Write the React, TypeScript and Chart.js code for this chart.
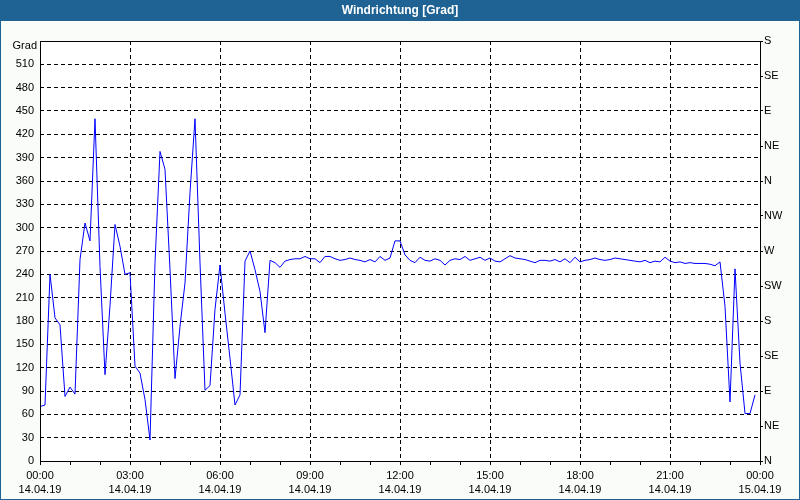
import React, { useEffect, useRef } from "react";
import { Chart, registerables } from "chart.js";

Chart.register(...registerables);

const TITLE = "Windrichtung [Grad]";
const LEFT_UNIT = "Grad";
const STEP_MINUTES = 10;

const DIRECTION_VALUES: number[] = [
  70, 72, 240, 184, 175, 83, 95, 86, 259, 306,
  283, 440, 250, 111, 200, 304, 276, 240, 242, 122,
  113, 79, 27, 255, 398, 375, 246, 106, 173, 229,
  345, 440, 255, 91, 97, 195, 252, 190, 132, 72,
  85, 257, 270, 246, 218, 165, 258, 255, 249, 257,
  259, 260, 260, 263, 260, 260, 255, 263, 263, 260,
  258, 259, 261, 259, 258, 256, 259, 256, 263, 258,
  261, 283, 283, 265, 258, 255, 262, 258, 257, 260,
  258, 252, 258, 260, 259, 263, 258, 260, 262, 258,
  261, 257, 256, 260, 264, 261, 260, 259, 257, 255,
  258, 258, 257, 259, 256, 260, 255, 262, 256, 258,
  259, 261, 259, 258, 259, 261, 260, 259, 258, 257,
  256, 258, 255, 257, 256, 262, 257, 255, 256, 254,
  255, 254, 254, 254, 253, 251, 256, 199, 76, 247,
  126, 61, 61, 85,
];

const LEFT_MIN = 0;
const LEFT_MAX = 540;
const LEFT_STEP = 30;
const RIGHT_STEP = 45;
const COMPASS_LABELS = ["N", "NE", "E", "SE", "S", "SW", "W", "NW", "N", "NE", "E", "SE", "S"];

const X_MIN = 0;
const X_MAX = 1440;
const X_MINOR_STEP = 60;
const X_LABEL_STEP = 180;
const TIME_LABELS = ["00:00", "03:00", "06:00", "09:00", "12:00", "15:00", "18:00", "21:00", "00:00"];
const DATE_LABELS = ["14.04.19", "14.04.19", "14.04.19", "14.04.19", "14.04.19", "14.04.19", "14.04.19", "14.04.19", "15.04.19"];

const FONT = "'Liberation Sans', Arial, sans-serif";

export default function App() {
  const canvasRef = useRef<HTMLCanvasElement | null>(null);

  useEffect(() => {
    document.body.style.margin = "0";
    const canvas = canvasRef.current;
    if (!canvas) return;

    const points = DIRECTION_VALUES.map((v, i) => ({ x: i * STEP_MINUTES, y: v }));

    const framePlugin = {
      id: "frame",
      beforeDraw(chart: any) {
        const { ctx, chartArea, width, height } = chart;
        ctx.save();
        ctx.fillStyle = "#f9fcf9";
        ctx.fillRect(0, 0, width, height);
        ctx.fillStyle = "#ffffff";
        ctx.fillRect(chartArea.left, chartArea.top, chartArea.right - chartArea.left, chartArea.bottom - chartArea.top);
        ctx.fillStyle = "#1e6394";
        ctx.fillRect(0, 0, width, 21);
        ctx.fillStyle = "#ffffff";
        ctx.font = "bold 12px " + FONT;
        ctx.textAlign = "center";
        ctx.textBaseline = "middle";
        ctx.fillText(TITLE, width / 2, 11);
        ctx.restore();
      },
      afterDraw(chart: any) {
        const { ctx, chartArea, width, height } = chart;
        ctx.save();
        ctx.strokeStyle = "#000000";
        ctx.lineWidth = 1;
        ctx.setLineDash([]);
        ctx.strokeRect(
          Math.round(chartArea.left) + 0.5,
          Math.round(chartArea.top) + 0.5,
          Math.round(chartArea.right - chartArea.left),
          Math.round(chartArea.bottom - chartArea.top)
        );
        ctx.fillStyle = "#000000";
        ctx.font = "11px " + FONT;
        ctx.textAlign = "right";
        ctx.textBaseline = "middle";
        ctx.fillText(LEFT_UNIT, 37, 46);
        ctx.strokeStyle = "#1e6394";
        ctx.strokeRect(0.5, 0.5, width - 1, height - 1);
        ctx.restore();
      },
    };

    const chart = new Chart(canvas, {
      type: "line",
      data: {
        datasets: [
          {
            data: points,
            borderColor: "#0000ff",
            borderWidth: 1,
            pointRadius: 0,
            tension: 0,
            fill: false,
            yAxisID: "y",
          },
        ],
      },
      options: {
        animation: false,
        responsive: false,
        maintainAspectRatio: false,
        devicePixelRatio: 1,
        layout: { padding: { top: 41, left: 0, right: 0, bottom: 0 } },
        plugins: {
          legend: { display: false },
          title: { display: false },
          tooltip: { enabled: false },
        },
        scales: {
          x: {
            type: "linear",
            min: X_MIN,
            max: X_MAX,
            afterFit(scale: any) {
              scale.height = 39;
            },
            ticks: {
              stepSize: X_MINOR_STEP,
              autoSkip: false,
              maxRotation: 0,
              minRotation: 0,
              padding: 3,
              color: "#000000",
              font: { family: FONT, size: 11, lineHeight: 1.36 },
              callback: (value: any) => {
                const v = Number(value);
                if (v % X_LABEL_STEP !== 0) return "";
                const i = v / X_LABEL_STEP;
                return [TIME_LABELS[i], DATE_LABELS[i]];
              },
            },
            grid: {
              color: (ctx: any) => (ctx.tick && ctx.tick.value % X_LABEL_STEP === 0 ? "#000000" : "rgba(0,0,0,0)"),
              lineWidth: 1,
              tickColor: "#000000",
              tickLength: 4,
              drawTicks: true,
            },
            border: { display: false, dash: [4, 3] },
          },
          y: {
            type: "linear",
            position: "left",
            min: LEFT_MIN,
            max: LEFT_MAX,
            afterFit(scale: any) {
              scale.width = 40;
            },
            ticks: {
              stepSize: LEFT_STEP,
              padding: 6,
              color: "#000000",
              font: { family: FONT, size: 11 },
              callback: (value: any) => (Number(value) === LEFT_MAX ? "" : String(value)),
            },
            grid: {
              color: "#000000",
              lineWidth: 1,
              drawTicks: false,
            },
            border: { display: false, dash: [4, 3] },
          },
          y2: {
            type: "linear",
            position: "right",
            min: LEFT_MIN,
            max: LEFT_MAX,
            afterFit(scale: any) {
              scale.width = 40;
            },
            ticks: {
              stepSize: RIGHT_STEP,
              padding: 1,
              color: "#000000",
              font: { family: FONT, size: 11 },
              callback: (value: any) => COMPASS_LABELS[Math.round(Number(value) / RIGHT_STEP)] ?? "",
            },
            grid: {
              drawOnChartArea: false,
              tickColor: "#000000",
              tickLength: 3,
            },
            border: { display: false },
          },
        },
      },
      plugins: [framePlugin],
    });

    return () => {
      chart.destroy();
    };
  }, []);

  return (
    <div style={{ position: "fixed", left: 0, top: 0, width: 800, height: 500 }}>
      <canvas ref={canvasRef} width={800} height={500} style={{ width: 800, height: 500, display: "block" }} />
    </div>
  );
}
